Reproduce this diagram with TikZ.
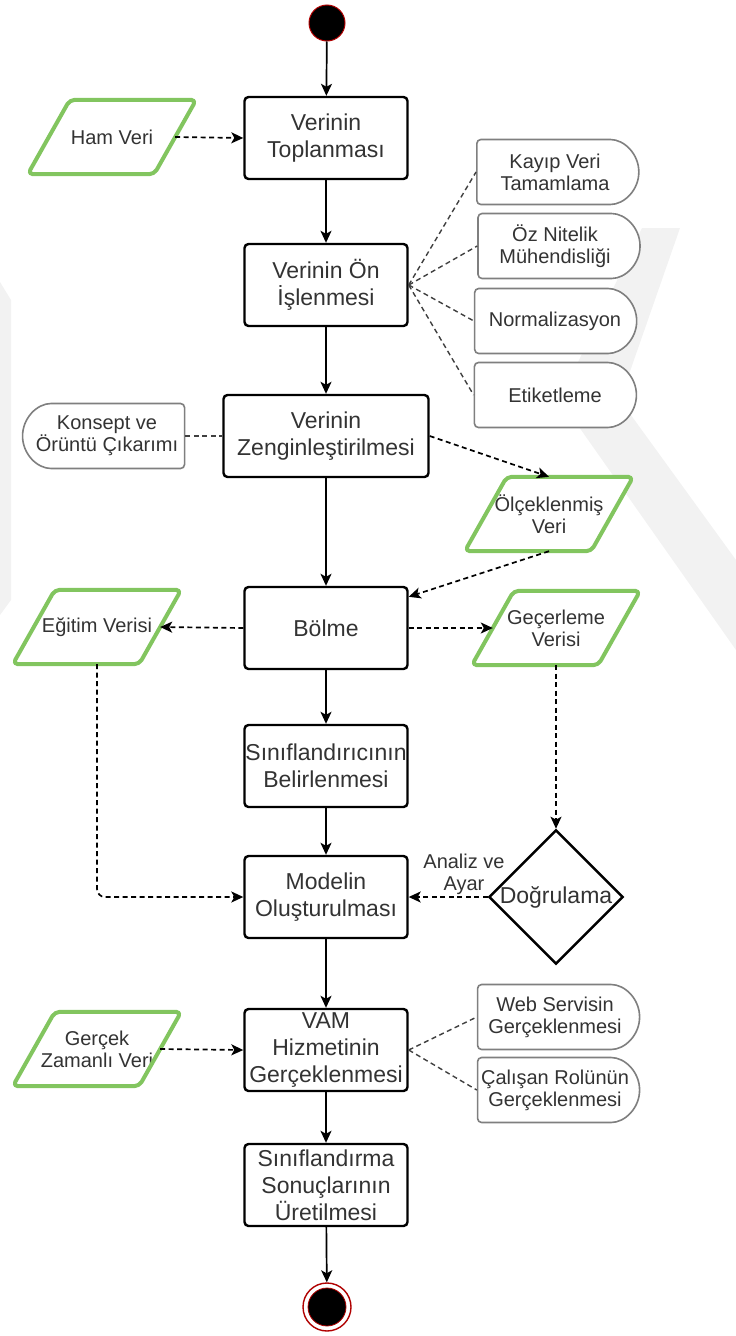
\documentclass[tikz,border=0pt]{standalone}
\usepackage{fontspec}
\setmainfont{Liberation Sans}
\usepackage{tikz}
\usetikzlibrary{shapes.geometric,shapes.misc,arrows.meta,positioning,calc}

\pgfdeclarelayer{back}
\pgfsetlayers{back,main}

\definecolor{txtgray}{HTML}{333333}
\definecolor{datagreen}{HTML}{82C55F}
\definecolor{slotgray}{HTML}{7F7F7F}
\definecolor{startred}{HTML}{B00000}
\definecolor{markgray}{HTML}{F2F2F2}

\begin{document}
\begin{tikzpicture}[x = 1pt, y = -1pt,
        procbox/.style = {rectangle, draw = black, line width = 2.4pt, rounded corners = 4pt, fill = white, text = txtgray, align = center,
                          minimum width = 163pt, minimum height = 82pt, inner xsep = 0pt, inner ysep = 2pt,
                          font = \fontsize{23}{27}\selectfont},
        databox/.style = {rectangle, text = txtgray, align = center, minimum width = 126pt, minimum height = 74pt, inner sep = 0pt,
                          font = \fontsize{20}{22}\selectfont},
        dataline/.style = {draw = datagreen, line width = 4pt, rounded corners = 5pt, line join = round},
        slotbox/.style = {rounded rectangle, rounded rectangle left arc = none, draw = slotgray, line width = 1.6pt, fill = white,
                          rounded corners = 4pt, text = txtgray, align = center, minimum width = 164pt, minimum height = 65pt,
                          inner sep = 1pt, font = \fontsize{20}{22}\selectfont},
        slotboxl/.style = {slotbox, rounded rectangle left arc = convex, rounded rectangle right arc = none},
        decision/.style = {diamond, draw = black, line width = 2.4pt, fill = white, text = txtgray, minimum width = 132pt,
                           minimum height = 130pt, inner sep = 0pt, font = \fontsize{23}{26}\selectfont},
        flow/.style = {line width = 1.7pt, -{Stealth[length = 12pt, width = 11pt, inset = 3pt]}},
        dataflow/.style = {flow, dash pattern = on 5pt off 3.5pt},
        assoc/.style = {line width = 1.4pt, draw = black!75, dash pattern = on 5pt off 3.5pt},
        lbl/.style = {text = txtgray, align = center, font = \fontsize{20}{22}\selectfont, inner sep = 1pt}
    ]

        \def\colM{326}
        \def\colL{97}
        \def\colR{555}
        \def\slant{21pt}

        \useasboundingbox (0, 0) rectangle (736, 1336);

        % faint watermark in the background
        \begin{pgfonlayer}{back}
            \fill[markgray] (642, 228) -- (680, 228) -- (620, 400) -- (736, 560) -- (736, 650) -- (560, 400) -- cycle;
            \fill[markgray] (0, 282) -- (11, 300) -- (11, 600) -- (0, 615) -- cycle;
        \end{pgfonlayer}

        % main column
        \node[circle, fill = black, draw = startred, line width = 1pt, minimum size = 36pt, inner sep = 0pt] (start) at (327, 23) {};
        \node[procbox] (toplanma) at (\colM, 138) {Verinin\\Toplanması};
        \node[procbox] (onisleme) at (\colM, 285) {Verinin Ön\\İşlenmesi};
        \node[procbox, minimum width = 205pt] (zengin) at (\colM, 436) {Verinin\\Zenginleştirilmesi};
        \node[procbox] (bolme) at (\colM, 628) {Bölme};
        \node[procbox] (sinif) at (\colM, 766) {Sınıflandırıcının\\Belirlenmesi};
        \node[procbox] (model) at (\colM, 897) {Modelin\\Oluşturulması};
        \node[procbox] (vam) at (\colM, 1050) {VAM\\Hizmetinin\\Gerçeklenmesi};
        \node[procbox] (sonuc) at (\colM, 1185) {Sınıflandırma\\Sonuçlarının\\Üretilmesi};
        \node[circle, draw = startred, line width = 1.4pt, fill = white, minimum size = 48pt, inner sep = 0pt] (stop) at (327, 1307) {};
        \fill[black, draw = startred, line width = 0.8pt] (stop.center) circle (19pt);

        % data inputs and outputs
        \node[databox] (ham) at (112, 137) {Ham Veri};
        \node[databox] (olcek) at (549, 514) {Ölçeklenmiş\\Veri};
        \node[databox] (egitim) at (\colL, 627) {Eğitim Verisi};
        \node[databox] (gecerleme) at (556, 628) {Geçerleme\\Verisi};
        \node[databox] (gercek) at (\colL, 1049) {Gerçek\\Zamanlı Veri};

        % draw parallelogram frames round the data nodes
        \foreach \d in {ham, olcek, egitim, gecerleme, gercek} {
            \begin{pgfonlayer}{back}
                \fill[white] ([xshift = -\slant]\d.south west) -- ([xshift = -\slant]\d.south east)
                    -- ([xshift = \slant]\d.north east) -- ([xshift = \slant]\d.north west) -- cycle;
            \end{pgfonlayer}
            \draw[dataline] ([xshift = -\slant]\d.south west) -- ([xshift = -\slant]\d.south east)
                -- ([xshift = \slant]\d.north east) -- ([xshift = \slant]\d.north west) -- cycle;
        }

        % sub steps
        \node[slotbox] (kayip) at (\colR, 172) {Kayıp Veri\\Tamamlama};
        \node[slotbox] (oznit) at (\colR, 246) {Öz Nitelik\\Mühendisliği};
        \node[slotbox] (normal) at (\colR, 321) {Normalizasyon};
        \node[slotbox] (etiket) at (\colR, 395) {Etiketleme};
        \node[slotboxl] (konsept) at (107, 436) {Konsept ve\\Örüntü Çıkarımı};
        \node[slotbox] (web) at (\colR, 1017) {Web Servisin\\Gerçeklenmesi};
        \node[slotbox] (calisan) at (\colR, 1090) {Çalışan Rolünün\\Gerçeklenmesi};

        \node[decision] (dogru) at (556, 897) {Doğrulama};

        % solid flow
        \foreach \a/\b in {start/toplanma, toplanma/onisleme, onisleme/zengin, zengin/bolme,
                           bolme/sinif, sinif/model, model/vam, vam/sonuc, sonuc/stop} {
            \draw[flow] (\a) -- (\b);
        }

        % dashed data flow
        \draw[dataflow] (ham.east) -- (toplanma.west);
        \draw[dataflow] (zengin.east) -- (olcek.north);
        \draw[dataflow] (olcek.south) -- ([yshift = -11pt]bolme.north east);
        \draw[dataflow] (bolme.west) -- (egitim.east);
        \draw[dataflow] (bolme.east) -- (gecerleme.west);
        \draw[dataflow, rounded corners = 8pt] (egitim.south) |- (model.west);
        \draw[dataflow] (gecerleme.south) -- (dogru.north);
        \draw[dataflow] (dogru.west) -- node[lbl, pos = 0.3, above = 1pt] (ayar) {Analiz ve\\Ayar} (model.east);
        \draw[dataflow] (gercek.east) -- (vam.west);

        % sub step links
        \foreach \s in {kayip, oznit, normal, etiket} {
            \draw[assoc] (onisleme.east) -- (\s.west);
        }
        \draw[assoc] (konsept.east) -- (zengin.west);
        \foreach \s in {web, calisan} {
            \draw[assoc] (vam.east) -- (\s.west);
        }

    \end{tikzpicture}
\end{document}
